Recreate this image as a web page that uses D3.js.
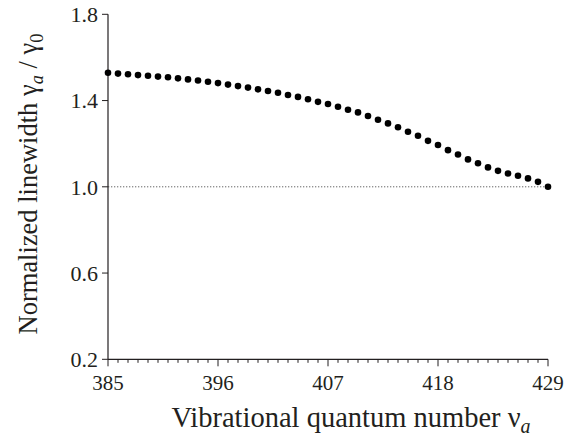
<!DOCTYPE html>
<html>
<head>
<meta charset="utf-8">
<script src="https://cdnjs.cloudflare.com/ajax/libs/d3/7.8.5/d3.min.js"></script>
<style>
  body { margin: 0; background: #fff; }
  text { font-family: "Liberation Serif", "DejaVu Serif", serif; fill: #231f20; }
</style>
</head>
<body>
<svg id="chart" width="575" height="442"></svg>
<script>
// vibrational quantum numbers 385..429
const nu = [385,386,387,388,389,390,391,392,393,394,395,396,397,398,399,400,401,402,403,404,405,406,
  407,408,409,410,411,412,413,414,415,416,417,418,419,420,421,422,423,424,425,426,427,428,429];
// normalized linewidth gamma_a / gamma_0
const ratio = [1.529,1.525,1.522,1.518,1.515,1.511,1.508,1.503,1.498,1.493,1.487,1.481,1.474,1.467,
  1.460,1.452,1.444,1.436,1.426,1.417,1.406,1.394,1.384,1.371,1.357,1.345,1.328,1.311,1.294,1.276,
  1.255,1.237,1.213,1.194,1.170,1.150,1.127,1.109,1.090,1.074,1.062,1.051,1.039,1.023,1.000];
const xTicks = [385, 396, 407, 418, 429];
const yTicks = [0.2, 0.6, 1.0, 1.4, 1.8];
const refLevel = 1.0;

const svg = d3.select("#chart");
const mLeft = 108, mRight = 548, mTop = 14.3, mBottom = 359.3;

const x = d3.scaleLinear().domain([385, 429]).range([mLeft, mRight]);
const y = d3.scaleLinear().domain([0.2, 1.8]).range([mBottom, mTop]);

// dotted reference line
svg.append("line")
  .attr("x1", x(385)).attr("x2", x(429))
  .attr("y1", y(refLevel)).attr("y2", y(refLevel))
  .attr("stroke", "#666").attr("stroke-width", 1)
  .attr("stroke-dasharray", "1.3,1.7");

// x axis: one tick per quantum number, longer at labels
const xAxis = svg.append("g").attr("transform", "translate(0," + mBottom + ")");
xAxis.append("line").attr("x1", mLeft).attr("x2", mRight)
  .attr("stroke", "#231f20").attr("stroke-width", 1.2);
xAxis.selectAll("line.tk").data(nu).join("line").attr("class", "tk")
  .attr("x1", d => x(d)).attr("x2", d => x(d))
  .attr("y1", 0).attr("y2", d => xTicks.includes(d) ? 7 : 3.5)
  .attr("stroke", "#231f20").attr("stroke-width", 1);
xAxis.selectAll("text").data(xTicks).join("text")
  .attr("x", d => x(d)).attr("y", 30.5)
  .attr("text-anchor", "middle").attr("font-size", 21)
  .text(d => d);

// y axis
const yAxis = svg.append("g").attr("transform", "translate(" + mLeft + ",0)");
yAxis.append("line").attr("y1", mTop).attr("y2", mBottom)
  .attr("stroke", "#231f20").attr("stroke-width", 1.2);
yAxis.selectAll("line.t").data(yTicks).join("line").attr("class", "t")
  .attr("x1", -6).attr("x2", 0)
  .attr("y1", d => y(d)).attr("y2", d => y(d))
  .attr("stroke", "#231f20").attr("stroke-width", 1);
yAxis.selectAll("text").data(yTicks).join("text")
  .attr("x", -10).attr("y", d => y(d)).attr("dy", "0.35em")
  .attr("text-anchor", "end").attr("font-size", 22)
  .text(d => d.toFixed(1));

// data points
svg.append("g").selectAll("circle").data(nu).join("circle")
  .attr("cx", (d, i) => x(d)).attr("cy", (d, i) => y(ratio[i]))
  .attr("r", 3.3).attr("fill", "#000");

// axis titles
const xt = svg.append("text").attr("x", 351).attr("y", 427)
  .attr("text-anchor", "middle").attr("font-size", 28.5);
xt.append("tspan").text("Vibrational quantum number ν");
xt.append("tspan").attr("font-style", "italic").attr("font-size", 20).attr("dy", 6).text("a");

const yt = svg.append("text")
  .attr("transform", "translate(37,184) rotate(-90)")
  .attr("text-anchor", "middle").attr("font-size", 26.5);
yt.append("tspan").text("Normalized linewidth γ");
yt.append("tspan").attr("font-style", "italic").attr("font-size", 18.5).attr("dy", 6).text("a");
yt.append("tspan").attr("dy", -6).text(" / γ");
yt.append("tspan").attr("font-size", 18.5).attr("dy", 6).text("0");
</script>
</body>
</html>
